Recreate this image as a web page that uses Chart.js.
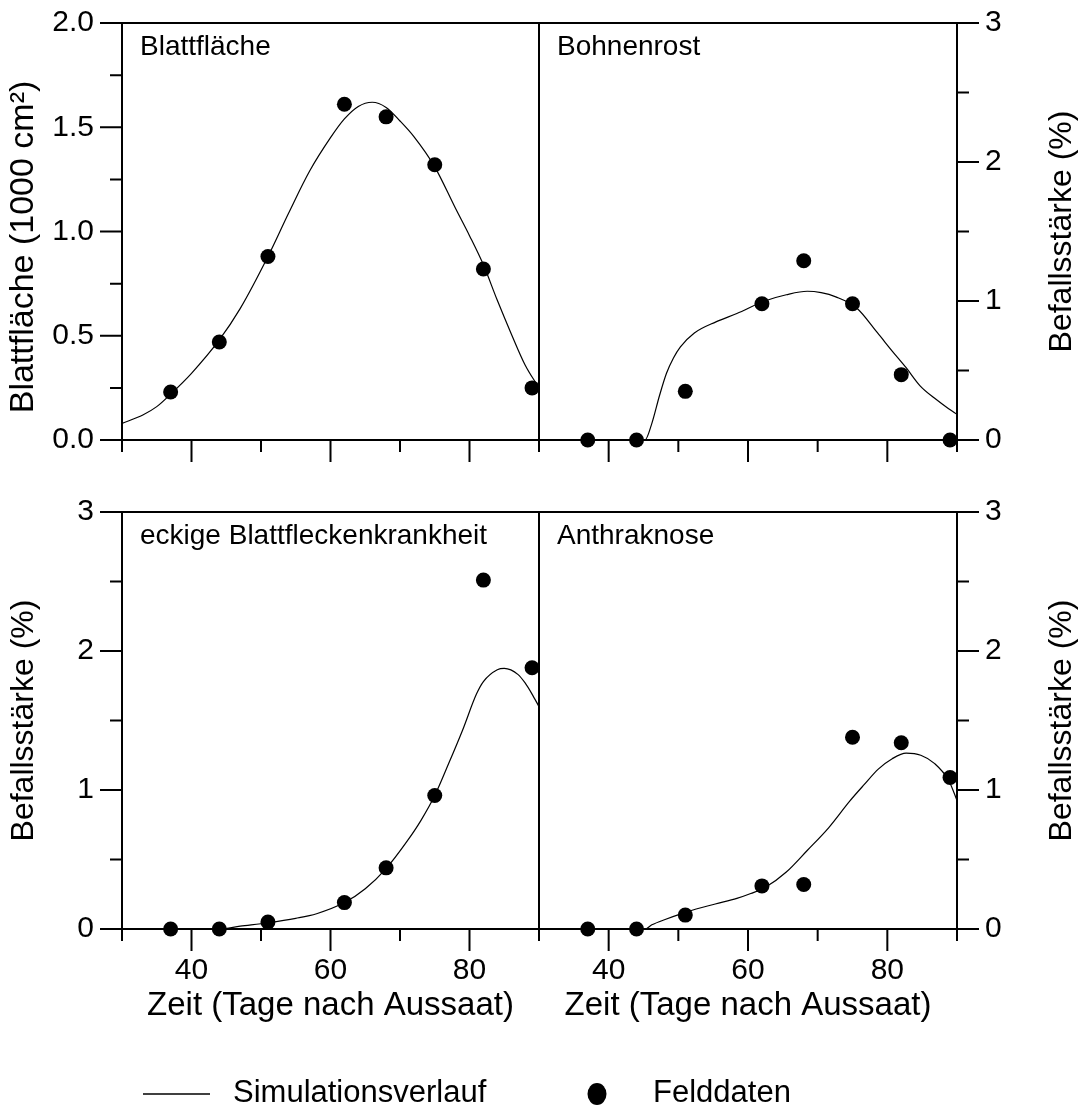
<!DOCTYPE html>
<html>
<head>
<meta charset="utf-8">
<script src="https://cdn.jsdelivr.net/npm/chart.js@4.4.0/dist/chart.umd.min.js"></script>
<style>
  html, body { margin: 0; padding: 0; background: #fff; }
  #page { position: relative; width: 1087px; height: 1113px; }
  #page canvas { position: absolute; left: 0; top: 0; }
</style>
</head>
<body>
<div id="page">
  <canvas id="leafChart" width="1087" height="1113"></canvas>
  <canvas id="rustChart" width="1087" height="1113"></canvas>
  <canvas id="angularChart" width="1087" height="1113"></canvas>
  <canvas id="anthracChart" width="1087" height="1113"></canvas>
</div>
<script>
// Field data: sampling days are the same in all four panels
const fieldDays = [37, 44, 51, 62, 68, 75, 82, 89];
const leafAreaField = [0.23, 0.47, 0.88, 1.61, 1.55, 1.32, 0.82, 0.25];
const rustField = [0, 0, 0.35, 0.98, 1.29, 0.98, 0.47, 0];
const angularField = [0, 0, 0.05, 0.19, 0.44, 0.96, 2.51, 1.88];
const anthracField = [0, 0, 0.10, 0.31, 0.32, 1.38, 1.34, 1.09];

// Simulated course
const leafSimDays = [30, 33, 35, 37, 40, 44, 47, 51, 54, 57, 60, 62, 64, 66, 68, 70, 72, 75, 78, 80, 82, 84, 86, 88, 90];
const leafSim = [0.08, 0.12, 0.16, 0.22, 0.32, 0.48, 0.63, 0.88, 1.09, 1.29, 1.45, 1.54, 1.60, 1.62, 1.595, 1.53, 1.455, 1.31, 1.11, 0.98, 0.84, 0.67, 0.51, 0.36, 0.25];

const rustSimDays = [30, 44, 45.2, 46.2, 47.3, 48.3, 49.3, 50.3, 52.3, 55.4, 58.4, 62.4, 65.5, 68.5, 70.5, 72.6, 75.6, 78.6, 80.7, 82.7, 84.7, 86.8, 88.8, 90];
const rustSim = [0, 0, 0, 0.12, 0.32, 0.48, 0.59, 0.67, 0.77, 0.85, 0.91, 1.0, 1.045, 1.07, 1.06, 1.03, 0.95, 0.77, 0.64, 0.52, 0.39, 0.30, 0.225, 0.185];

const angularSimDays = [30, 44, 47, 51, 55, 58, 62, 65, 68, 71, 73, 75, 77, 79, 81, 82, 84, 85, 87, 88, 89, 90];
const angularSim = [0, 0, 0.02, 0.045, 0.077, 0.11, 0.19, 0.29, 0.435, 0.63, 0.78, 0.96, 1.19, 1.43, 1.69, 1.78, 1.865, 1.875, 1.83, 1.77, 1.69, 1.60];

const anthracSimDays = [30, 44, 45.2, 46.2, 48.2, 51.3, 55.3, 58.4, 60.4, 62.5, 65.5, 68.5, 71.6, 74.6, 76.7, 78.7, 80.7, 82.7, 84.8, 86.8, 88.8, 90];
const anthracSim = [0, 0, 0, 0.03, 0.07, 0.125, 0.18, 0.22, 0.255, 0.30, 0.41, 0.565, 0.73, 0.92, 1.04, 1.15, 1.225, 1.265, 1.25, 1.19, 1.07, 0.925];

const BLACK = '#000';
const FONT = "'Liberation Sans', Arial, Helvetica, sans-serif";
Chart.defaults.font.family = FONT;
Chart.defaults.color = BLACK;

function isMajor(v, step) {
    return Math.abs(v / step - Math.round(v / step)) < 1e-6;
}

function rotatedText(ctx, text, x, y, size) {
    ctx.save();
    ctx.translate(x, y);
    ctx.rotate(-Math.PI / 2);
    ctx.font = size + 'px ' + FONT;
    ctx.textAlign = 'center';
    ctx.textBaseline = 'middle';
    ctx.fillText(text, 0, 0);
    ctx.restore();
}

// Frame, outward ticks (long ones on major values), panel title,
// y axis title (reads bottom-up on both sides) and the shared legend.
const panelDecor = {
    id: 'panelDecor',
    afterDatasetsDraw(chart, args, opts) {
        const ctx = chart.ctx;
        const a = chart.chartArea;
        ctx.save();
        ctx.strokeStyle = BLACK;
        ctx.fillStyle = BLACK;
        ctx.lineWidth = 2;
        ctx.strokeRect(a.left, a.top, a.right - a.left, a.bottom - a.top);

        Object.values(chart.scales).forEach(function(scale) {
            const step = scale.axis === 'x' ? opts.xMajor : opts.yMajor;
            ctx.beginPath();
            scale.ticks.forEach(function(t) {
                const p = scale.getPixelForValue(t.value);
                const len = isMajor(t.value, step) ? 22 : 12;
                if (scale.position === 'bottom') {
                    ctx.moveTo(p, a.bottom); ctx.lineTo(p, a.bottom + len);
                } else if (scale.position === 'left') {
                    ctx.moveTo(a.left, p); ctx.lineTo(a.left - len, p);
                } else {
                    ctx.moveTo(a.right, p); ctx.lineTo(a.right + len, p);
                }
            });
            ctx.stroke();
        });

        ctx.font = '28px ' + FONT;
        ctx.textAlign = 'left';
        ctx.textBaseline = 'alphabetic';
        ctx.fillText(opts.title, a.left + 18, a.top + 32);

        const yt = opts.yTitle;
        rotatedText(ctx, yt.text, yt.x, yt.y != null ? yt.y : (a.top + a.bottom) / 2, yt.size);

        if (opts.legend) {
            ctx.lineWidth = 1.5;
            ctx.beginPath();
            ctx.moveTo(143, 1094);
            ctx.lineTo(210, 1094);
            ctx.stroke();
            ctx.beginPath();
            ctx.ellipse(597, 1094, 9.5, 11, 0, 0, Math.PI * 2);
            ctx.fill();
            ctx.font = '31px ' + FONT;
            ctx.fillText('Simulationsverlauf', 233, 1102);
            ctx.fillText('Felddaten', 653, 1102);
        }
        ctx.restore();
    }
};

window.renderPanel = function(canvasId, p) {
    const ctx = document.getElementById(canvasId);
    if (!ctx) return;

    const left = p.side === 'left';
    const top = p.row === 'top';

    ctx.chart = new Chart(ctx, {
        type: 'line',
        data: {
            datasets: [{
                label: 'Simulationsverlauf',
                data: p.simDays.map(function(d, i) { return { x: d, y: p.sim[i] }; }),
                borderColor: BLACK,
                borderWidth: 1.2,
                pointRadius: 0,
                cubicInterpolationMode: 'monotone',
                fill: false
            }, {
                label: 'Felddaten',
                data: fieldDays.map(function(d, i) { return { x: d, y: p.field[i] }; }),
                showLine: false,
                pointRadius: 7.5,
                pointBackgroundColor: BLACK,
                pointBorderWidth: 0,
                clip: false
            }]
        },
        options: {
            responsive: false,
            devicePixelRatio: 1,
            animation: false,
            events: [],
            layout: {
                padding: {
                    left: left ? 0 : 539,
                    right: left ? 548 : 0,
                    top: top ? 23 : 512,
                    bottom: top ? 633 : 74
                }
            },
            plugins: {
                legend: { display: false },
                tooltip: { enabled: false },
                panelDecor: {
                    title: p.title,
                    yTitle: p.yTitle,
                    legend: p.legend || false,
                    xMajor: 20,
                    yMajor: p.yMajor
                }
            },
            scales: {
                x: {
                    type: 'linear',
                    position: 'bottom',
                    min: 30,
                    max: 90,
                    afterFit: function(s) {
                        s.height = top ? 40 : 110;
                        s.paddingLeft = 0; s.paddingRight = 0;
                    },
                    grid: { display: false, drawTicks: false },
                    border: { display: false },
                    ticks: {
                        stepSize: 10,
                        autoSkip: false,
                        maxRotation: 0,
                        padding: 24,
                        font: { size: 30 },
                        callback: function(v) { return (!top && isMajor(v, 20)) ? String(v) : ''; }
                    },
                    title: {
                        display: !top,
                        text: 'Zeit (Tage nach Aussaat)',
                        font: { size: 33 },
                        padding: { top: 0, bottom: 13 }
                    }
                },
                y: {
                    type: 'linear',
                    position: left ? 'left' : 'right',
                    min: 0,
                    max: p.yMax,
                    afterFit: function(s) {
                        s.width = left ? 122 : 130;
                        s.paddingTop = 0; s.paddingBottom = 0;
                    },
                    grid: { display: false, drawTicks: false },
                    border: { display: false },
                    ticks: {
                        stepSize: p.yStep,
                        autoSkip: false,
                        padding: 28,
                        font: { size: 30 },
                        callback: function(v) { return isMajor(v, p.yMajor) ? p.fmt(v) : ''; }
                    }
                }
            }
        },
        plugins: [panelDecor]
    });
};

renderPanel('leafChart', {
    side: 'left', row: 'top', title: 'Blattfläche',
    yTitle: { text: 'Blattfläche (1000 cm²)', x: 24, y: 247, size: 34 },
    yMax: 2, yStep: 0.25, yMajor: 0.5,
    fmt: function(v) { return v.toFixed(1); },
    simDays: leafSimDays, sim: leafSim, field: leafAreaField
});
renderPanel('rustChart', {
    side: 'right', row: 'top', title: 'Bohnenrost',
    yTitle: { text: 'Befallsstärke (%)', x: 1062, size: 32 },
    yMax: 3, yStep: 0.5, yMajor: 1,
    fmt: function(v) { return String(v); },
    simDays: rustSimDays, sim: rustSim, field: rustField
});
renderPanel('angularChart', {
    side: 'left', row: 'bottom', title: 'eckige Blattfleckenkrankheit',
    yTitle: { text: 'Befallsstärke (%)', x: 24, size: 32 },
    yMax: 3, yStep: 0.5, yMajor: 1,
    fmt: function(v) { return String(v); },
    simDays: angularSimDays, sim: angularSim, field: angularField, legend: true
});
renderPanel('anthracChart', {
    side: 'right', row: 'bottom', title: 'Anthraknose',
    yTitle: { text: 'Befallsstärke (%)', x: 1062, size: 32 },
    yMax: 3, yStep: 0.5, yMajor: 1,
    fmt: function(v) { return String(v); },
    simDays: anthracSimDays, sim: anthracSim, field: anthracField
});
</script>
</body>
</html>
